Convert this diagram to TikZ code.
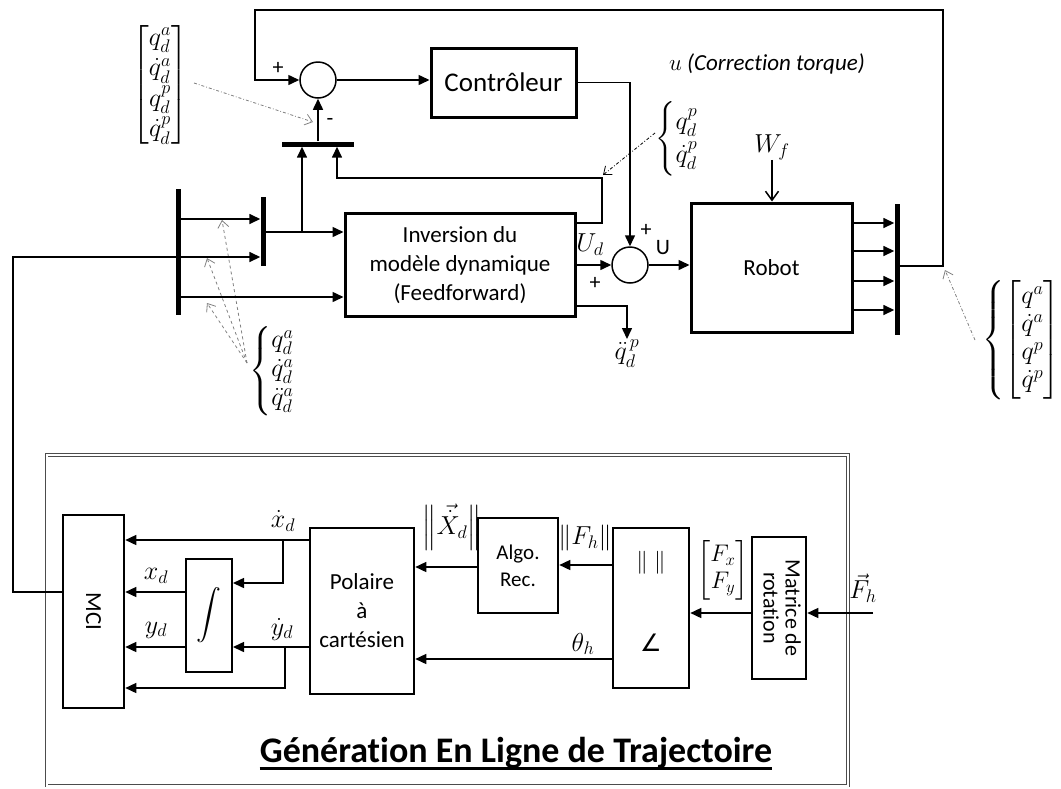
\RequirePackage{fix-cm}
\documentclass[tikz,border=0pt]{standalone}
\usepackage{amsmath}
\usepackage{graphicx}
\usepackage{fontspec}
\setmainfont{Carlito}[Ligatures=NoCommon]
\newfontfamily\symfont{DejaVu Sans}
\usetikzlibrary{arrows.meta,calc}
\begin{document}
\begin{tikzpicture}[x=1pt,y=-1pt,
  conn/.style={line width=1.5pt},
  arr/.style={conn,-{Triangle[length=11pt,width=10pt]}},
  box/.style={draw,line width=3pt,inner sep=0pt,align=center,font=\fontsize{23}{29}\selectfont},
  sbox/.style={draw,line width=2.6pt,inner sep=0pt,align=center,font=\fontsize{23}{29}\selectfont},
  sumc/.style={circle,draw,line width=1.5pt,minimum size=36pt,inner sep=0pt},
  vbar/.style={fill=black,inner sep=0pt,minimum width=5pt},
  hbar/.style={fill=black,inner sep=0pt,minimum height=5pt},
  lbl/.style={inner sep=0pt,font=\fontsize{22}{29}\selectfont},
  mlbl/.style={inner sep=0pt,font=\fontsize{26}{30}\selectfont},
  hint/.style={gray,line width=0.8pt,dashed,-{Straight Barb[length=7pt,width=11pt]}},
  hintdd/.style={gray,line width=0.8pt,dash dot,-{Straight Barb[length=7pt,width=11pt]}},
]
\useasboundingbox (0,0) rectangle (1061,788);

% ---------- upper part: nodes ----------
\node[box,minimum width=145pt,minimum height=69pt,font=\fontsize{27}{30}\selectfont] (ctrl) at (503.5,82.5) {Contrôleur};
\node[box,minimum width=230pt,minimum height=103pt] (inv) at (460,265) {Inversion du\\modèle dynamique\\(Feedforward)};
\node[box,minimum width=161pt,minimum height=129pt] (robot) at (771.5,267.5) {Robot};
\node[sumc] (sum1) at (318,80) {};
\node[sumc] (sum2) at (630,265) {};
\node[hbar,minimum width=72pt] (barM) at (318,144) {};
\node[vbar,minimum height=126pt] (bar1) at (178,252) {};
\node[vbar,minimum height=69pt] (bar2) at (263,231.5) {};
\node[vbar,minimum height=131pt] (barR) at (897,269.5) {};

% helper coordinates
\coordinate (jR) at (943,266);
\coordinate (topR) at (943,10);
\coordinate (topL) at (255,10);
\coordinate (fb) at (602,178);
\coordinate (jM) at (337,178);
\coordinate (j1) at (302,232);
\coordinate (y219) at (0,219);
\coordinate (y257) at (0,257);
\coordinate (y297) at (0,297);
\coordinate (y223) at (0,223);
\coordinate (y306) at (0,306);
\coordinate (loopB) at (13,592);
\coordinate (loopT) at (13,257);

% labels upper
\node[lbl] at (278,68) {+};
\node[lbl] at (330,122) {-};
\node[lbl] at (646,230) {+};
\node[lbl] at (595,283) {+};
\node[lbl] at (663,248) {U};
\node[mlbl] at (590,245) {$U_d$};
\node[mlbl] (Wf) at (772,147) {$W_f$};
\node[mlbl,anchor=north] (qddp) at (627,339) {$\ddot q_d^{\,p}$};
\node[lbl,font=\fontsize{23}{27}\selectfont] at (767,64) {$u$ \textit{(Correction torque)}};

\node[mlbl,font=\fontsize{26}{29}\selectfont] (qTL) at (160,85) {$\renewcommand{\arraystretch}{1.05}\begin{bmatrix} q_d^a\\ \dot q_d^a\\ q_d^p\\ \dot q_d^p\end{bmatrix}$};
\node[mlbl] (qP) at (677,139) {$\renewcommand{\arraystretch}{1.1}\left\{\begin{matrix} q_d^p\\ \dot q_d^p\end{matrix}\right.$};
\node[mlbl,font=\fontsize{26}{29}\selectfont] (qA) at (272,371) {$\left\{\begin{matrix} q_d^a\\ \dot q_d^a\\ \ddot q_d^a\end{matrix}\right.$};
\node[mlbl,font=\fontsize{26}{28}\selectfont] (qR) at (1022,340) {$\left\{\begin{bmatrix} q^a\\ \dot q^a\\ q^p\\ \dot q^p\end{bmatrix}\right.$};

% hint arrows
\coordinate (dsrc) at (247,363);
\coordinate (d1) at (222,220);
\coordinate (d2) at (207,258);
\coordinate (d3) at (207,303);
\draw[hint] (dsrc) -- (d1);
\draw[hint] (dsrc) -- (d2);
\draw[hint] (dsrc) -- (d3);
\coordinate (h1s) at (194,83);
\coordinate (h1e) at (313,122);
\coordinate (h2s) at (655,133);
\coordinate (h2e) at (603,175);
\coordinate (h3s) at (975,340);
\coordinate (h3e) at (945,270);
\draw[hintdd] (h1s) -- (h1e);
\draw[hintdd,black] (h2s) -- (h2e);
\draw[hintdd] (h3s) -- (h3e);

% upper connectors
\draw[arr] (jR -| barR.east) -- (jR) -- (topR) -- (topL) |- (sum1.west);
\draw[arr] (sum1.east) -- (sum1.east -| ctrl.west);
\draw[arr] (ctrl.east) -| (sum2.north);
\draw[arr] (inv.east) -- (sum2.west);
\draw[arr] (sum2.east) -- (sum2.east -| robot.west);
\draw[arr] (barM.north) -- (sum1.south);
\draw[arr] (y223 -| inv.east) -| (fb) -- (jM) -- (jM |- barM.south);
\draw[arr] (j1 -| bar2.east) -- (j1 -| inv.west);
\draw[arr] (j1) -- (j1 |- barM.south);
\draw[arr] (y297 -| bar1.east) -- (y297 -| inv.west);
\draw[arr] (y219 -| bar1.east) -- (y219 -| bar2.west);
\draw[arr] (y306 -| inv.east) -| (qddp.north);
\draw[conn,-{Straight Barb[length=9pt,width=13pt]}] (Wf.south) -- (Wf.south |- robot.north);
\foreach \yy in {223,251,281,310}{
  \coordinate (ro) at (0,\yy);
  \draw[arr] (ro -| robot.east) -- (ro -| barR.west);
}

% ---------- lower part ----------
\draw[double=white,double distance=2pt,line width=0.9pt,black!70] (46.5,455) rectangle (848,785.5);

\node[sbox,minimum width=61pt,minimum height=193pt] (mci) at (93.5,611.5) {\rotatebox{-90}{MCI}};
\node[sbox,line width=2pt,minimum width=46pt,minimum height=113pt,font=\fontsize{34}{38}\selectfont] (integ) at (209,615.5) {$\displaystyle\int$};
\node[sbox,minimum width=104pt,minimum height=166pt] (pol) at (362,611) {Polaire\\à\\cartésien};
\node[sbox,minimum width=80pt,minimum height=95pt,font=\fontsize{21}{27}\selectfont] (algo) at (518,565.5) {Algo.\\Rec.};
\node[sbox,minimum width=76pt,minimum height=160pt] (norm) at (651,608) {};
\node[mlbl,font=\fontsize{23}{29}\selectfont] at (651,563) {$\|\;\|$};
\node[lbl,font=\fontsize{24}{29}\symfont] at (651,643) {∠};
\node[sbox,minimum width=54pt,minimum height=142pt,font=\fontsize{22}{22}\selectfont] (mat) at (779,608) {\rotatebox{-90}{\begin{tabular}{@{}c@{}}Matrice de\\rotation\end{tabular}}};

\coordinate (cxd) at (283,540);
\coordinate (cyd) at (285,647);
\coordinate (y583) at (0,583);
\coordinate (y592) at (0,592);
\coordinate (y688) at (0,688);
\coordinate (y567) at (0,567);
\coordinate (y565) at (0,565);
\coordinate (y659) at (0,659);
\coordinate (y613) at (0,613);
\coordinate (fin) at (873,613);

\draw[arr] (cxd -| pol.west) -- (cxd -| mci.east);
\draw[arr] (cxd) |- (y583 -| integ.east);
\draw[arr] (cyd -| pol.west) -- (cyd -| integ.east);
\draw[arr] (cyd) |- (y688 -| mci.east);
\draw[arr] (y592 -| integ.west) -- (y592 -| mci.east);
\draw[arr] (cyd -| integ.west) -- (cyd -| mci.east);
\draw[arr] (y567 -| algo.west) -- (y567 -| pol.east);
\draw[arr] (y565 -| norm.west) -- (y565 -| algo.east);
\draw[arr] (y659 -| norm.west) -- (y659 -| pol.east);
\draw[arr] (y613 -| mat.west) -- (y613 -| norm.east);
\draw[arr] (fin) -- (fin -| mat.east);
\draw[arr] (loopB -| mci.west) -- (loopB) -- (loopT) -- (loopT -| bar2.west);

\node[mlbl] at (283,521) {$\dot x_d$};
\node[mlbl] at (156,576) {$x_d$};
\node[mlbl] at (156,630) {$y_d$};
\node[mlbl] at (282,629) {$\dot y_d$};
\node[mlbl] at (452,527) {$\left\|\vec{\dot X}_d\right\|$};
\node[mlbl] at (585,538) {$\|F_h\|$};
\node[mlbl] at (583,644) {$\theta_h$};
\node[mlbl,font=\fontsize{24}{27}\selectfont] at (723,570) {$\begin{bmatrix}F_x\\ F_y\end{bmatrix}$};
\node[mlbl] at (863,588) {$\vec F_h$};

\node[inner sep=0pt,anchor=base,font=\fontsize{36}{40}\selectfont\bfseries] (title) at (516,762) {Génération En Ligne de Trajectoire};
\draw[line width=2.8pt] ([yshift=-6.5pt]title.base west) -- ([yshift=-6.5pt]title.base east);
\end{tikzpicture}
\end{document}
